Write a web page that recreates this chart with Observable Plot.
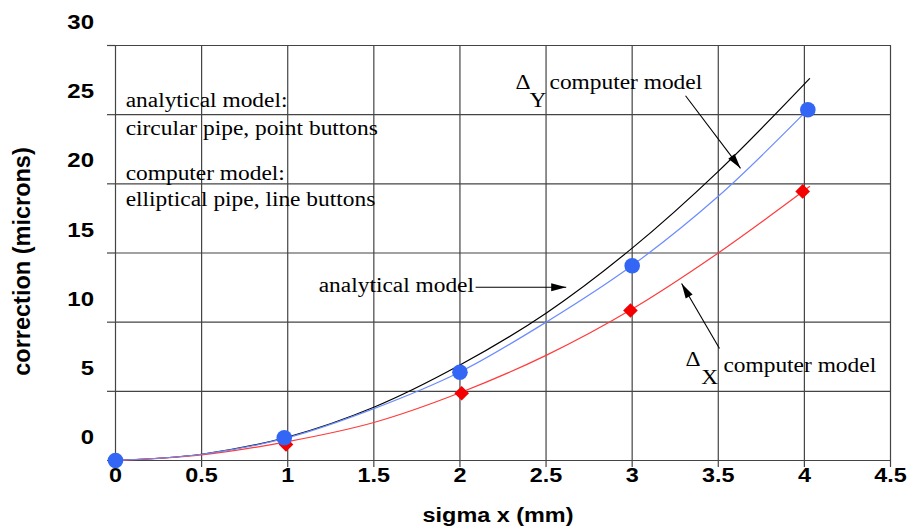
<!DOCTYPE html>
<html>
<head>
<meta charset="utf-8">
<script src="https://cdn.jsdelivr.net/npm/d3@7"></script>
<script src="https://cdn.jsdelivr.net/npm/@observablehq/plot@0.6"></script>
<style>
  html, body { margin: 0; padding: 0; background: #ffffff; }
</style>
</head>
<body>
<script>
// Axis ticks
const xTicks = [0, 0.5, 1, 1.5, 2, 2.5, 3, 3.5, 4, 4.5];
const yTicks = [0, 5, 10, 15, 20, 25, 30];

// Computed corrections (microns) vs beam size sigma x (mm)
const deltaYx = [0, 0.98, 2.0, 3.0, 4.02];
const deltaYy = [0, 1.65, 6.38, 14.08, 25.36];
const deltaXx = [0, 0.99, 2.01, 2.99, 3.99];
const deltaXy = [0, 1.16, 4.86, 10.84, 19.45];

// Smooth curves
const analyticalX = [0, 0.5, 1, 1.5, 2, 2.5, 3, 3.5, 4.03];
const analyticalY = [0, 0.45, 1.7, 3.85, 6.9, 10.65, 15.35, 20.9, 27.6];
const fitYx = [0, 0.5, 1, 1.5, 2, 2.5, 3, 3.5, 4.02];
const fitYy = [0, 0.45, 1.65, 3.75, 6.4, 10.0, 14.1, 19.1, 25.36];
const fitXx = [0, 0.5, 1, 1.5, 2, 2.5, 3, 3.5, 4.03];
const fitXy = [0, 0.4, 1.37, 2.75, 4.9, 7.6, 10.95, 15.0, 19.8];

// Notes in the upper left
const noteLines = ["analytical model:", "circular pipe, point buttons", "computer model:", "elliptical pipe, line buttons"];
const noteX = [0.059, 0.059, 0.059, 0.059];
const noteY = [25.57, 23.55, 20.3, 18.4];

// Curve labels
const labelText = ["computer model", "analytical model", "computer model"];
const labelX = [2.52, 1.18, 3.53];
const labelY = [26.85, 12.16, 6.38];
const deltaX = [2.323, 3.31];
const deltaY = [26.85, 6.86];
const subText = ["Y", "X"];
const subX = [2.404, 3.401];
const subY = [25.59, 5.56];

// Pointer arrows: tail (x1, y1) to tip (x2, y2)
const arrowX1 = [3.31, 2.091, 3.507];
const arrowY1 = [26.37, 12.52, 8.09];
const arrowX2 = [3.629, 2.617, 3.287];
const arrowY2 = [21.12, 12.52, 12.79];

const W = 908, H = 529;
const mL = 115, mR = 18, mT = 45, mB = 69;
const xDomain = [0, 4.5], yDomain = [0, 30];
const kx = (W - mL - mR) / (xDomain[1] - xDomain[0]);
const ky = (H - mT - mB) / (yDomain[1] - yDomain[0]);

const zip = (xs, ys) => xs.map((x, i) => ({x, y: ys[i]}));

// Filled triangular arrow head, tip at the origin, pointing along angle a (screen radians)
function headSymbol(a, L = 15, w = 4) {
  return {
    draw(ctx) {
      const c = Math.cos(a), s = Math.sin(a);
      const bx = -L * c, by = -L * s;
      ctx.moveTo(0, 0);
      ctx.lineTo(bx - w * s, by + w * c);
      ctx.lineTo(bx + w * s, by - w * c);
      ctx.closePath();
    }
  };
}

const arrows = arrowX1.map((x1, i) => ({x1, y1: arrowY1[i], x2: arrowX2[i], y2: arrowY2[i]}));
const headMarks = arrows.map(d => {
  const a = Math.atan2(-(d.y2 - d.y1) * ky, (d.x2 - d.x1) * kx);
  return Plot.dot([d], {x: "x2", y: "y2", r: 5, symbol: headSymbol(a), fill: "black", stroke: "none"});
});

const serif = "'Liberation Serif', 'Times New Roman', serif";
const sans = "'Liberation Sans', Arial, sans-serif";
const grid = "#444";

const chart = Plot.plot({
  width: W,
  height: H,
  marginLeft: mL,
  marginRight: mR,
  marginTop: mT,
  marginBottom: mB,
  style: {fontFamily: sans, fontSize: "20px", color: "black", background: "white"},
  x: {domain: xDomain},
  y: {domain: yDomain},
  marks: [
    Plot.ruleX(xTicks, {stroke: grid, strokeWidth: 1.2}),
    Plot.ruleY(yTicks, {stroke: grid, strokeWidth: 1.2}),
    Plot.axisX(xTicks, {tickSize: 7, tickPadding: 0, label: null, stroke: grid, strokeWidth: 1.2,
      fontSize: 20, fontWeight: "bold", fontFamily: sans, tickFormat: d => String(d)}),
    Plot.axisY(yTicks, {tickSize: 8, label: null, stroke: grid, strokeWidth: 1.2, tickFormat: () => ""}),
    // y tick labels sit above their gridlines
    Plot.text(yTicks, {y: d => d, frameAnchor: "left", text: d => String(d), textAnchor: "end",
      lineAnchor: "bottom", dx: -21.5, dy: -16.5, fontSize: 20.5, fontWeight: "bold", fontFamily: sans}),
    // axis titles
    Plot.text(["sigma x (mm)"], {frameAnchor: "bottom", lineAnchor: "bottom", dy: 61.7, dx: -5,
      fontSize: 20, fontWeight: "bold", fontFamily: sans}),
    Plot.text(["correction (microns)"], {frameAnchor: "left", textAnchor: "middle", rotate: -90, dx: -93, dy: 8.5,
      fontSize: 23.5, fontWeight: "bold", fontFamily: sans}),
    // curves
    Plot.line(zip(analyticalX, analyticalY), {x: "x", y: "y", stroke: "black", strokeWidth: 1.2, curve: "catmull-rom"}),
    Plot.line(zip(fitXx, fitXy), {x: "x", y: "y", stroke: "#ff3b3b", strokeWidth: 1.2, curve: "catmull-rom"}),
    Plot.line(zip(fitYx, fitYy), {x: "x", y: "y", stroke: "#6b8cff", strokeWidth: 1.2, curve: "catmull-rom"}),
    // computed points
    Plot.dot(zip(deltaXx, deltaXy), {x: "x", y: "y", symbol: "diamond2", r: 6.6, fill: "#f50000", stroke: "none"}),
    Plot.dot(zip(deltaYx, deltaYy), {x: "x", y: "y", symbol: "circle", r: 7.8, fill: "#3366f5", stroke: "none"}),
    // notes
    Plot.text(noteLines, {x: (d, i) => noteX[i], y: (d, i) => noteY[i], text: d => d, textAnchor: "start",
      lineAnchor: "bottom", fontFamily: serif, fontSize: 20}),
    Plot.text(labelText, {x: (d, i) => labelX[i], y: (d, i) => labelY[i], text: d => d, textAnchor: "start",
      lineAnchor: "bottom", fontFamily: serif, fontSize: 20}),
    Plot.text(["Δ", "Δ"], {x: (d, i) => deltaX[i], y: (d, i) => deltaY[i], text: d => d, textAnchor: "start",
      lineAnchor: "bottom", fontFamily: serif, fontSize: 20}),
    Plot.text(subText, {x: (d, i) => subX[i], y: (d, i) => subY[i], text: d => d, textAnchor: "start",
      lineAnchor: "bottom", fontFamily: serif, fontSize: 20}),
    // arrows
    Plot.link(arrows, {x1: "x1", y1: "y1", x2: "x2", y2: "y2", stroke: "black", strokeWidth: 1.1}),
    ...headMarks
  ]
});

document.body.append(chart);

// The typeset lettering is set slightly wide; widen horizontal text runs to suit.
chart.querySelectorAll("text").forEach(t => {
  const tr = t.getAttribute("transform") || "";
  if (tr.includes("rotate")) return;
  const len = t.getComputedTextLength();
  if (len > 0) {
    t.setAttribute("textLength", (len * 1.17).toFixed(1));
    t.setAttribute("lengthAdjust", "spacingAndGlyphs");
  }
});
</script>
</body>
</html>
